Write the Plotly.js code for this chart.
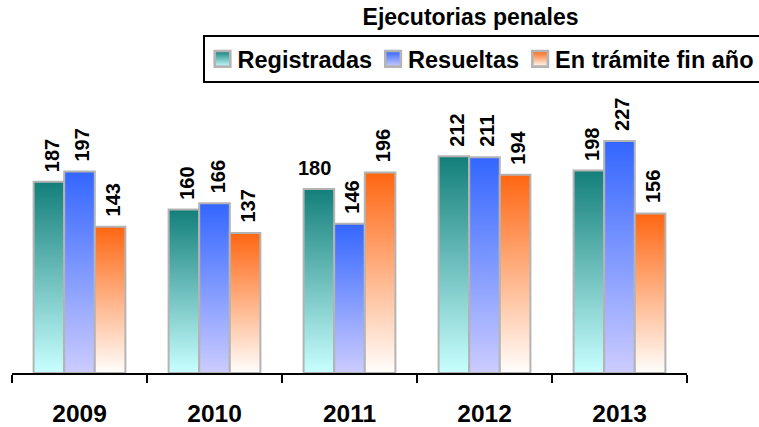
<!DOCTYPE html>
<html>
<head>
<meta charset="utf-8">
<script src="https://cdn.plot.ly/plotly-3.0.1.min.js"></script>
<style>
  html, body { margin: 0; padding: 0; background: #fff; }
  #chart { width: 759px; height: 427px; }
</style>
</head>
<body>
<div id="chart"></div>
<script>
// data
const years = ["2009", "2010", "2011", "2012", "2013"];
const seriesNames = ["Registradas", "Resueltas", "En trámite fin año"];
const registradas = [187, 160, 180, 212, 198];
const resueltas = [197, 166, 146, 211, 227];
const enTramite = [143, 137, 196, 194, 156];

const allSeries = [registradas, resueltas, enTramite];
// top -> bottom colours of each bar gradient
const gradients = [
  ["#137f7a", "#c8ffff"],
  ["#3366ff", "#ccccff"],
  ["#ff6611", "#fffefc"],
];
const FONT = "Liberation Sans, Arial, sans-serif";
const BARGAP = 0.32;

const traces = allSeries.map((vals, i) => ({
  type: "bar",
  name: seriesNames[i],
  x: years,
  y: vals,
  marker: { color: gradients[i][0], line: { color: "#b4b4b4", width: 2 } },
  hoverinfo: "skip",
}));

// value labels: vertical except the 2011 "Registradas" one, which the original draws flat
const plotW = 675;
const barW = (plotW / years.length) * (1 - BARGAP) / allSeries.length;
const annotations = [];
allSeries.forEach((vals, i) => {
  vals.forEach((v, j) => {
    const flat = i === 0 && years[j] === "2011";
    annotations.push({
      x: j, y: v, xref: "x", yref: "y",
      text: "<b>" + v + "</b>",
      showarrow: false,
      textangle: flat ? 0 : -90,
      xanchor: "center", yanchor: "bottom",
      xshift: (i - 1) * barW + (flat ? -4 : 3),
      yshift: 8,
      font: { family: FONT, size: 20, color: "#000" },
    });
  });
});

const layout = {
  width: 759,
  height: 427,
  margin: { l: 12, r: 72, t: 100, b: 54, autoexpand: false },
  paper_bgcolor: "#fff",
  plot_bgcolor: "#fff",
  barmode: "group",
  bargap: BARGAP,
  bargroupgap: 0,
  title: {
    text: "<b>Ejecutorias penales</b>",
    x: 0.62, xref: "container", xanchor: "center",
    y: 0.96, yref: "container", yanchor: "middle",
    font: { family: FONT, size: 23, color: "#000" },
  },
  showlegend: true,
  legend: {
    orientation: "h",
    x: 0.283, xanchor: "left",
    y: 1.238, yanchor: "top",
    bordercolor: "#000",
    borderwidth: 2,
    bgcolor: "#fff",
    font: { family: FONT, size: 23.5, color: "#000", weight: "bold" },
    traceorder: "normal",
  },
  xaxis: {
    type: "category",
    range: [-0.5, 4.5],
    showline: true, linecolor: "#000", linewidth: 2,
    ticks: "outside", ticklen: 8, tickwidth: 2, tickcolor: "#000",
    tickson: "boundaries",
    ticklabelstandoff: 18,
    showgrid: false, zeroline: false,
    tickfont: { family: FONT, size: 24.5, color: "#000", weight: "bold" },
  },
  yaxis: {
    range: [0, 267],
    showline: false, showticklabels: false, ticks: "",
    showgrid: false, zeroline: false,
  },
  annotations: annotations,
};

const NS = "http://www.w3.org/2000/svg";
function applyGradients(gd) {
  const defs = gd.querySelector("svg.main-svg defs");
  gradients.forEach((g, i) => {
    const lg = document.createElementNS(NS, "linearGradient");
    lg.setAttribute("id", "barGrad" + i);
    lg.setAttribute("x1", "0"); lg.setAttribute("y1", "0");
    lg.setAttribute("x2", "0"); lg.setAttribute("y2", "1");
    [[0, g[0]], [1, g[1]]].forEach(([off, col]) => {
      const s = document.createElementNS(NS, "stop");
      s.setAttribute("offset", off);
      s.setAttribute("stop-color", col);
      lg.appendChild(s);
    });
    defs.appendChild(lg);
  });
  gd.querySelectorAll(".barlayer .trace").forEach((t) => {
    const idx = t.__data__[0].trace.index;
    t.querySelectorAll("path").forEach((p) => { p.style.fill = "url(#barGrad" + idx + ")"; });
  });
  // legend: gradient swatches, a bit bigger, and tighter spacing like the original
  gd.querySelectorAll(".legend .traces").forEach((t) => {
    const idx = t.__data__[0].trace.index;
    t.querySelectorAll(".legendpoints path").forEach((p) => {
      p.style.fill = "url(#barGrad" + idx + ")";
      const tr = p.getAttribute("transform") || "";
      p.setAttribute("transform", tr + " scale(1.3)");
    });
    const m = /translate\(([-\d.]+)[ ,]+([-\d.]+)\)/.exec(t.getAttribute("transform") || "");
    if (m) {
      const nx = parseFloat(m[1]) - 2.5 - 9 * idx;
      t.setAttribute("transform", "translate(" + nx + "," + m[2] + ")");
    }
    const txt = t.querySelector("text.legendtext");
    if (txt) txt.setAttribute("x", parseFloat(txt.getAttribute("x")) - 5);
  });
}

Plotly.newPlot("chart", traces, layout, { displayModeBar: false, staticPlot: true })
  .then(applyGradients);
</script>
</body>
</html>
